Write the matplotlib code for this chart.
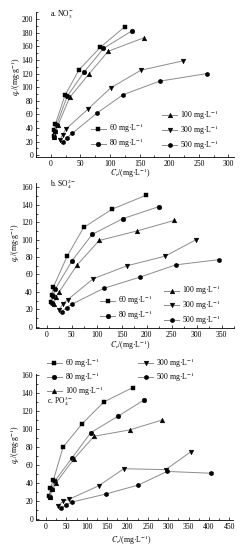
import matplotlib
matplotlib.use("Agg")
import matplotlib.pyplot as plt
from matplotlib.ticker import MultipleLocator

plt.rcParams['font.family'] = ['Liberation Serif', 'DejaVu Serif']
plt.rcParams['mathtext.fontset'] = 'stix'

labels = ['60 mg·L$^{-1}$', '80 mg·L$^{-1}$', '100 mg·L$^{-1}$',
          '300 mg·L$^{-1}$', '500 mg·L$^{-1}$']
markers = ['s', 'o', '^', 'v', 'h']

# panel a: NO3-
a_x = [
    [5, 6, 8, 24, 48, 84, 125],
    [5.5, 7, 10, 28, 56, 89, 137],
    [6, 8, 12, 32, 64, 97, 158],
    [15, 20, 25, 63, 101, 152, 224],
    [20, 28, 36, 78, 122, 184, 263],
]
a_y = [
    [28, 37, 46, 88, 126, 159, 189],
    [27, 36, 45, 87, 122, 157, 183],
    [27, 36, 44, 85, 119, 153, 173],
    [22, 30, 38, 68, 99, 125, 139],
    [19, 26, 32, 62, 89, 109, 120],
]

# panel b: SO4 2-
b_x = [
    [8, 10, 13, 41, 74, 131, 199],
    [11, 13, 17, 51, 91, 152, 225],
    [15, 18, 25, 61, 105, 181, 255],
    [25, 32, 42, 93, 161, 237, 299],
    [30, 40, 51, 114, 187, 258, 344],
]
b_y = [
    [28, 36, 45, 81, 114, 135, 151],
    [27, 35, 43, 76, 106, 124, 138],
    [26, 34, 40, 71, 99, 110, 122],
    [19, 26, 31, 55, 70, 81, 100],
    [17, 22, 26, 44, 57, 71, 77],
]

# panel c: PO4 3-
c_x = [
    [8, 11, 18, 42, 89, 142, 213],
    [9, 14, 21, 64, 110, 176, 240],
    [10, 15, 24, 69, 118, 205, 285],
    [30, 42, 56, 129, 191, 294, 356],
    [37, 48, 63, 147, 227, 297, 406],
]
c_y = [
    [26, 35, 43, 80, 106, 130, 146],
    [25, 34, 42, 68, 96, 114, 132],
    [25, 33, 40, 67, 92, 99, 110],
    [15, 20, 22, 37, 56, 55, 75],
    [12, 16, 19, 28, 38, 53, 51],
]

fig = plt.figure(figsize=(2.41, 5.49), dpi=100)

panels = [
    dict(xs=a_x, ys=a_y, rect=[0.149, 0.7135, 0.8237, 0.2638],
         xlim=(-25, 310), ylim=(-3, 210), xmaj=50, ymaj=20, xmax=300, ymax=200,
         tag=r'a. NO$_3^{-}$', tagpos=(0.07, 0.983),
         ylab=(-0.1, 0.555), xlab=(0.474, -0.113)),
    dict(xs=b_x, ys=b_y, rect=[0.148, 0.4018, 0.8237, 0.2648],
         xlim=(-22, 375), ylim=(-2, 165), xmaj=50, ymaj=20, xmax=350, ymax=160,
         tag=r'b. SO$_4^{2-}$', tagpos=(0.072, 0.993),
         ylab=(-0.105, 0.587), xlab=(0.475, -0.117)),
    dict(xs=c_x, ys=c_y, rect=[0.1485, 0.0525, 0.82, 0.2663],
         xlim=(-25, 460), ylim=(-1, 161), xmaj=50, ymaj=20, xmax=450, ymax=160,
         tag=r'c. PO$_4^{3-}$', tagpos=(0.055, 0.815),
         ylab=(-0.105, 0.514), xlab=(0.485, -0.135)),
]

fs = 5.5
for k, p in enumerate(panels):
    ax = fig.add_axes(p['rect'])
    handles = []
    for i in range(5):
        h, = ax.plot(p['xs'][i], p['ys'][i], color='#8c8c8c', lw=0.7,
                     marker=markers[i], ms=3.4, mfc='black', mec='black', mew=0.3)
        handles.append(h)
    ax.set_xlim(*p['xlim'])
    ax.set_ylim(*p['ylim'])
    ax.set_xticks(range(0, p['xmax'] + 1, p['xmaj']))
    ax.set_yticks(range(0, p['ymax'] + 1, p['ymaj']))
    ax.xaxis.set_minor_locator(MultipleLocator(p['xmaj'] / 2))
    ax.yaxis.set_minor_locator(MultipleLocator(p['ymaj'] / 2))
    for s in ['top', 'right']:
        ax.spines[s].set_visible(False)
    for s in ['left', 'bottom']:
        ax.spines[s].set_linewidth(0.6)
    ax.tick_params(which='both', direction='in', width=0.5, labelsize=fs, pad=2)
    ax.tick_params(which='major', length=2.5)
    ax.tick_params(which='minor', length=1.5)
    ax.set_ylabel('$q_e$/(mg·g$^{-1}$)', fontsize=fs, va='center')
    ax.yaxis.set_label_coords(*p['ylab'])
    ax.set_xlabel('$C_e$/(mg·L$^{-1}$)', fontsize=fs, va='center')
    ax.xaxis.set_label_coords(*p['xlab'])
    ax.text(p['tagpos'][0], p['tagpos'][1], p['tag'], transform=ax.transAxes,
            fontsize=fs, ha='left', va='center')

    leg_kw = dict(frameon=False, fontsize=fs, handlelength=2.0, handletextpad=0.4,
                  labelspacing=0.2, borderpad=0, borderaxespad=0, numpoints=1,
                  loc='upper left')
    if k == 0:
        l1 = ax.legend(handles[:2], labels[:2], bbox_to_anchor=(0.2756, 0.2438), **leg_kw)
        ax.add_artist(l1)
        ax.legend(handles[2:], labels[2:], bbox_to_anchor=(0.635, 0.3384), **leg_kw)
    elif k == 1:
        l1 = ax.legend(handles[:2], labels[:2], bbox_to_anchor=(0.324, 0.2366), **leg_kw)
        ax.add_artist(l1)
        ax.legend(handles[2:], labels[2:], bbox_to_anchor=(0.646, 0.307), **leg_kw)
    else:
        leg_kw['labelspacing'] = 0.05
        l1 = ax.legend(handles[:3], labels[:3], bbox_to_anchor=(0.055, 1.118), **leg_kw)
        ax.add_artist(l1)
        ax.legend(handles[3:], labels[3:], bbox_to_anchor=(0.517, 1.118), **leg_kw)

fig.savefig('out.png', dpi=100)
